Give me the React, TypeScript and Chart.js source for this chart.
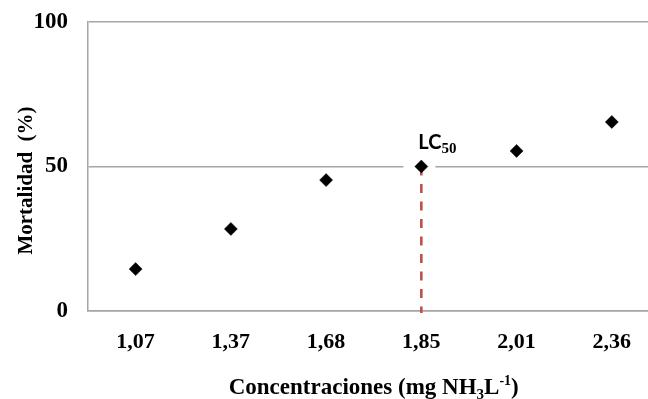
import { useEffect, useRef } from "react";
import { Chart, registerables } from "chart.js";

Chart.register(...registerables);

const CATEGORIES = ["1,07", "1,37", "1,68", "1,85", "2,01", "2,36"];
const MORTALITY = [14.5, 28.4, 45.3, 50, 55.4, 65.4];
const Y_TICKS = [0, 50, 100];
const LC_INDEX = 3;
const LC_VALUE = 50;
const X_MIN = -0.5;
const X_MAX = 5.38;

const GRID = "#a6a6a6";
const RED = "#c0504d";
const SERIF = "'Liberation Serif', 'Times New Roman', serif";

const annotations = {
  id: "annotations",
  beforeDatasetsDraw(chart: any) {
    const { ctx, scales } = chart;
    const x = scales.x.getPixelForValue(LC_INDEX);
    const y = scales.y.getPixelForValue(LC_VALUE);
    const y0 = scales.y.getPixelForValue(0);
    ctx.save();
    ctx.fillStyle = "#ffffff";
    ctx.fillRect(x - 18, y - 4, 32, 8);
    ctx.strokeStyle = RED;
    ctx.lineWidth = 2.6;
    ctx.setLineDash([9, 8.5]);
    ctx.beginPath();
    ctx.moveTo(x, y);
    ctx.lineTo(x, y0 + 2);
    ctx.stroke();
    ctx.restore();
  },
  afterDraw(chart: any) {
    const { ctx, scales, chartArea } = chart;
    const x = scales.x.getPixelForValue(LC_INDEX);
    const y = scales.y.getPixelForValue(LC_VALUE);
    ctx.save();
    ctx.fillStyle = "#000";
    ctx.textBaseline = "alphabetic";
    ctx.textAlign = "left";
    ctx.font = "bold 20px Lato, 'Open Sans', sans-serif";
    ctx.fillText("LC", x - 3, y - 18);
    const w = ctx.measureText("LC").width;
    ctx.font = `bold 15px ${SERIF}`;
    ctx.fillText("50", x - 3 + w, y - 14);

    // y axis title
    ctx.save();
    ctx.translate(26.5, (chartArea.top + chartArea.bottom) / 2 + 14);
    ctx.rotate(-Math.PI / 2);
    ctx.textAlign = "center";
    ctx.textBaseline = "middle";
    ctx.font = `bold 21px ${SERIF}`;
    ctx.fillText("Mortalidad  (%)", 0, 0);
    ctx.restore();

    // x axis title with sub/superscript
    const segs = [
      { t: "Concentraciones (mg NH", s: 23, dy: 0 },
      { t: "3", s: 15, dy: 5 },
      { t: "L", s: 23, dy: 0 },
      { t: "-1", s: 14, dy: -9 },
      { t: ")", s: 23, dy: 0 },
    ];
    let total = 0;
    for (const sg of segs) {
      ctx.font = `bold ${sg.s}px ${SERIF}`;
      total += ctx.measureText(sg.t).width;
    }
    const cx = (scales.x.getPixelForValue(-0.5) + scales.x.getPixelForValue(5.5)) / 2;
    let px = cx - total / 2;
    const base = 394;
    ctx.textAlign = "left";
    ctx.textBaseline = "alphabetic";
    for (const sg of segs) {
      ctx.font = `bold ${sg.s}px ${SERIF}`;
      ctx.fillText(sg.t, px, base + sg.dy);
      px += ctx.measureText(sg.t).width;
    }
    ctx.restore();
  },
};

const noPad = (s: any) => {
  s.paddingTop = 0;
  s.paddingBottom = 0;
  s.paddingLeft = 0;
  s.paddingRight = 0;
};

export default function App() {
  const ref = useRef<HTMLCanvasElement>(null);
  useEffect(() => {
    document.body.style.margin = "0";
    const chart = new Chart(ref.current as HTMLCanvasElement, {
      type: "scatter",
      data: {
        datasets: [
          {
            data: MORTALITY.map((v, i) => ({ x: i, y: v })),
            pointStyle: "rectRot",
            pointRadius: 6.5,
            pointBackgroundColor: "#000",
            pointBorderColor: "#000",
            pointBorderWidth: 0.5,
            showLine: false,
          },
        ],
      },
      options: {
        animation: false,
        responsive: false,
        events: [],
        layout: { autoPadding: false, padding: { top: 22, right: 0, left: 0, bottom: 0 } },
        plugins: { legend: { display: false }, tooltip: { enabled: false } },
        scales: {
          x: {
            type: "linear",
            min: X_MIN,
            max: X_MAX,
            afterBuildTicks: (s: any) => {
              s.ticks = CATEGORIES.map((_, i) => ({ value: i }));
            },
            afterFit: (s: any) => {
              s.height = 88;
              noPad(s);
            },
            ticks: {
              callback: (v: any) => CATEGORIES[v] ?? "",
              font: { family: SERIF, weight: "bold", size: 22 },
              color: "#000",
              padding: 18,
              maxRotation: 0,
              autoSkip: false,
            },
            grid: { display: false, drawTicks: false },
            border: { display: true, color: GRID, width: 1.5 },
          },
          y: {
            min: 0,
            max: 100,
            afterBuildTicks: (s: any) => {
              s.ticks = Y_TICKS.map((v) => ({ value: v }));
            },
            afterFit: (s: any) => {
              s.width = 88;
              noPad(s);
            },
            ticks: {
              font: { family: SERIF, weight: "bold", size: 23 },
              color: "#000",
              padding: 20,
            },
            grid: { color: GRID, lineWidth: 1.5, drawTicks: false },
            border: { display: true, color: GRID, width: 1.5 },
          },
        },
      },
      plugins: [annotations],
    } as any);
    return () => chart.destroy();
  }, []);
  return <canvas ref={ref} width={648} height={399} style={{ display: "block" }} />;
}
